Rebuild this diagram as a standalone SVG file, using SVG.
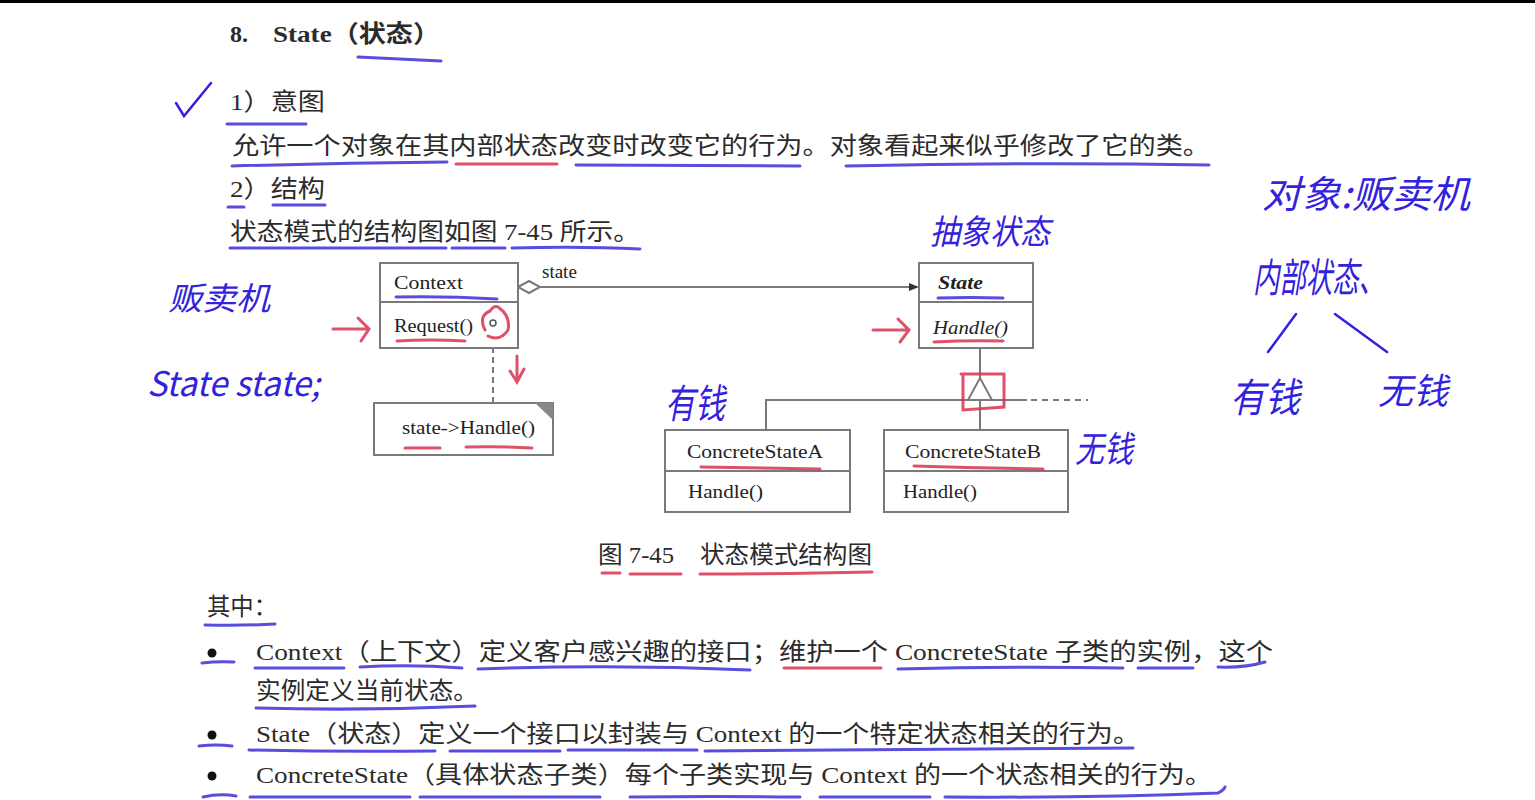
<svg xmlns="http://www.w3.org/2000/svg" width="1535" height="800" viewBox="0 0 1535 800">
<style>
.t{font-family:"Liberation Serif","Noto Sans CJK SC",serif;fill:#2b2b2b;font-size:24px}
.u{font-family:"Liberation Serif",serif;fill:#222;font-size:19px}
.box{fill:#fff;stroke:#7a7a7a;stroke-width:2}
.ln{stroke:#7a7a7a;stroke-width:2;fill:none}
.bu{stroke:#3b2ed6;stroke-width:3;fill:none;stroke-linecap:round;opacity:.85}
.re{stroke:#d8324f;stroke-width:3;fill:none;stroke-linecap:round;opacity:.85}
.hw{font-family:"Noto Sans CJK SC",sans-serif;fill:#3322dd;font-style:italic}
.hs{stroke:#3322dd;stroke-width:2.5;fill:none;stroke-linecap:round}
</style>
<rect width="1535" height="800" fill="#fff"/>
<rect width="1535" height="3" fill="#000"/>

<g id="slide-text">
<text class="t" x="230" y="42" font-weight="bold">8.</text>
<text class="t" x="273" y="42" font-weight="bold" textLength="167" lengthAdjust="spacingAndGlyphs">State（状态）</text>
<text class="t" x="230" y="110" textLength="95" lengthAdjust="spacingAndGlyphs">1）意图</text>
<text class="t" x="232" y="154" font-size="26" textLength="978" lengthAdjust="spacingAndGlyphs">允许一个对象在其内部状态改变时改变它的行为。对象看起来似乎修改了它的类。</text>
<text class="t" x="230" y="197" textLength="95" lengthAdjust="spacingAndGlyphs">2）结构</text>
<text class="t" x="230" y="240" textLength="410" lengthAdjust="spacingAndGlyphs">状态模式的结构图如图 7-45 所示。</text>
<text class="t" x="598" y="563" font-size="22" textLength="76" lengthAdjust="spacingAndGlyphs">图 7-45</text>
<text class="t" x="700" y="563" font-size="22" textLength="172" lengthAdjust="spacingAndGlyphs">状态模式结构图</text>
<text class="t" x="207" y="615" textLength="70" lengthAdjust="spacingAndGlyphs">其中：</text>
<circle cx="212" cy="653" r="4.5" fill="#111"/>
<circle cx="212" cy="735" r="4.5" fill="#111"/>
<circle cx="212" cy="776" r="4.5" fill="#111"/>
<text class="t" x="256" y="660" textLength="1017" lengthAdjust="spacingAndGlyphs">Context（上下文）定义客户感兴趣的接口；维护一个 ConcreteState 子类的实例，这个</text>
<text class="t" x="256" y="699" textLength="222" lengthAdjust="spacingAndGlyphs">实例定义当前状态。</text>
<text class="t" x="256" y="742" textLength="884" lengthAdjust="spacingAndGlyphs">State（状态）定义一个接口以封装与 Context 的一个特定状态相关的行为。</text>
<text class="t" x="256" y="783" textLength="956" lengthAdjust="spacingAndGlyphs">ConcreteState（具体状态子类）每个子类实现与 Context 的一个状态相关的行为。</text>
</g>

<g id="connectors">
<path class="ln" d="M540 287 H913"/>
<polygon points="919,287 909,283 909,291" fill="#333"/>
<polygon points="518,287 529,281 540,287 529,293" fill="#fff" stroke="#7a7a7a" stroke-width="2"/>
<text class="u" x="542" y="278" font-size="16">state</text>
<path class="ln" d="M493 327 V403" stroke-dasharray="6,4"/>
<path class="ln" d="M980 348 V378"/>
<polygon points="980,378 968,400 992,400" fill="#fff" stroke="#7a7a7a" stroke-width="2"/>
<path class="ln" d="M766 430 V400 H1027"/>
<path class="ln" d="M1031 400 H1088" stroke-dasharray="6,5"/>
<path class="ln" d="M980 400 V430"/>
</g>

<g id="context">
<rect class="box" x="380" y="263" width="138" height="85"/>
<path class="ln" d="M380 302 H518"/>
<text class="u" x="394" y="289" textLength="69" lengthAdjust="spacingAndGlyphs">Context</text>
<text class="u" x="394" y="332" textLength="79" lengthAdjust="spacingAndGlyphs">Request()</text>
<circle cx="493" cy="323" r="3" fill="#fff" stroke="#555" stroke-width="1.5"/>
</g>

<g id="note">
<rect class="box" x="374" y="403" width="179" height="52"/>
<polygon points="535,403 553,403 553,420" fill="#888"/>
<text class="u" x="402" y="434" font-size="18" textLength="133" lengthAdjust="spacingAndGlyphs">state-&gt;Handle()</text>
</g>

<g id="state">
<rect class="box" x="919" y="263" width="114" height="85"/>
<path class="ln" d="M919 302 H1033"/>
<text class="u" x="938" y="289" font-style="italic" font-weight="bold" textLength="45" lengthAdjust="spacingAndGlyphs">State</text>
<text class="u" x="933" y="334" font-style="italic" textLength="75" lengthAdjust="spacingAndGlyphs">Handle()</text>
</g>

<g id="concreteA">
<rect class="box" x="665" y="430" width="185" height="82"/>
<path class="ln" d="M665 471 H850"/>
<text class="u" x="687" y="458" textLength="136" lengthAdjust="spacingAndGlyphs">ConcreteStateA</text>
<text class="u" x="688" y="498" textLength="75" lengthAdjust="spacingAndGlyphs">Handle()</text>
</g>

<g id="concreteB">
<rect class="box" x="884" y="430" width="184" height="82"/>
<path class="ln" d="M884 471 H1068"/>
<text class="u" x="905" y="458" textLength="136" lengthAdjust="spacingAndGlyphs">ConcreteStateB</text>
<text class="u" x="903" y="498" textLength="74" lengthAdjust="spacingAndGlyphs">Handle()</text>
</g>

<g id="annotations">
<path class="hs" d="M176 103 L184 116 L211 83"/>
<path class="bu" d="M358 57 Q400 59 441 61"/>
<path class="bu" d="M227 124 H306"/>
<path class="bu" d="M232 166 Q340 163 447 162"/>
<path class="re" d="M456 164 H557"/>
<path class="bu" d="M576 165 Q690 166 800 166"/>
<path class="bu" d="M846 166 Q1030 162 1209 165"/>
<path class="bu" d="M228 207 H244"/>
<path class="bu" d="M273 205 H325"/>
<path class="bu" d="M230 248 H446"/>
<path class="bu" d="M452 248 H505"/>
<path class="bu" d="M512 248 Q580 246 640 249"/>
<path class="bu" d="M396 297 Q445 296 497 299"/>
<path class="re" d="M397 341 Q430 339 465 341"/>
<path class="re" d="M485 330 Q478 316 490 311 Q494 305 498 307 Q511 316 508 330 Q500 342 488 336"/>
<path class="re" d="M517 356 V381 M510 371 L517 382 L524 369"/>
<path class="re" d="M333 329 H368 M358 318 L369 329 L361 341"/>
<path class="re" d="M873 330 H908 M898 319 L909 330 L900 342"/>
<path class="re" d="M405 448 H440 M466 447 Q500 446 532 448"/>
<path class="bu" d="M938 298 Q970 297 1003 298"/>
<path class="re" d="M934 342 Q970 340 1003 341"/>
<path class="re" d="M961 374 H1004 V407 L963 410 V374"/>
<path class="re" d="M701 467 Q760 468 820 469"/>
<path class="re" d="M914 466 Q980 468 1043 469"/>
<path class="re" d="M602 573 H620 M630 574 H681 M700 574 Q790 574 872 572"/>
<path class="bu" d="M205 625 Q240 626 275 624"/>
<path class="bu" d="M202 663 Q218 661 234 662"/>
<path class="bu" d="M255 668 H344 M360 667 Q410 664 462 668 M478 669 Q615 664 750 670"/>
<path class="re" d="M784 668 H881"/>
<path class="bu" d="M898 669 Q1010 666 1123 668 M1138 668 H1193 M1218 667 Q1245 668 1265 662"/>
<path class="bu" d="M256 708 Q365 711 475 706"/>
<path class="bu" d="M199 746 Q216 744 232 746"/>
<path class="bu" d="M249 750 Q340 752 435 751 M450 751 H560 M568 750 H697 M705 751 Q920 750 1133 748"/>
<path class="bu" d="M203 797 Q220 793 236 796 M250 797 H410 M420 797 H600 M630 797 Q715 796 800 797 M820 797 H930 M945 797 Q1090 798 1218 793 Q1224 790 1225 787"/>
<text class="hw" x="930" y="244" font-size="34" textLength="120" lengthAdjust="spacingAndGlyphs">抽象状态</text>
<text class="hw" x="1262" y="208" font-size="38" textLength="208" lengthAdjust="spacingAndGlyphs">对象:贩卖机</text>
<text class="hw" x="1253" y="292" font-size="40" textLength="132" lengthAdjust="spacingAndGlyphs">内部状态、</text>
<path class="hs" d="M1296 314 L1268 352 M1335 314 L1387 352"/>
<text class="hw" x="1230" y="412" font-size="40" textLength="70" lengthAdjust="spacingAndGlyphs">有钱</text>
<text class="hw" x="1378" y="404" font-size="36" textLength="70" lengthAdjust="spacingAndGlyphs">无钱</text>
<text class="hw" x="168" y="310" font-size="32" textLength="102" lengthAdjust="spacingAndGlyphs">贩卖机</text>
<text class="hw" x="147" y="396" font-size="34" textLength="173" lengthAdjust="spacingAndGlyphs">State state;</text>
<text class="hw" x="665" y="418" font-size="40" textLength="60" lengthAdjust="spacingAndGlyphs">有钱</text>
<text class="hw" x="1075" y="462" font-size="36" textLength="58" lengthAdjust="spacingAndGlyphs">无钱</text>
</g>
</svg>
